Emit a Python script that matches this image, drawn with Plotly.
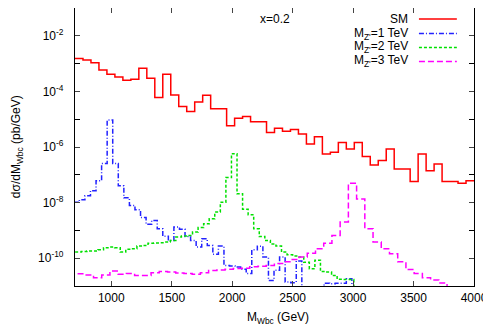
import numpy as np
import plotly.graph_objects as go

# ---------------- data (log10 of dσ/dM in pb/GeV) ----------------
sm_first_edge = 700
sm_bin_width = 66
sm_log10 = [-2.82, -2.87, -2.97, -3.23, -3.38, -3.48, -3.60, -3.56, -3.17, -3.53,
            -4.22, -3.38, -4.13, -4.54, -4.72, -4.38, -4.14, -4.62, -4.62, -5.24,
            -4.97, -4.90, -5.09, -5.09, -5.48, -5.33, -5.43, -5.37, -5.53, -5.89,
            -5.63, -6.25, -6.19, -5.84, -6.07, -5.84, -6.34, -6.65, -6.49, -6.07,
            -6.79, -6.79, -7.24, -6.25, -6.85, -6.61, -7.24, -7.24, -7.30, -7.21]

z1_first_edge = 690
z1_bin_width = 46
z1_log10 = [-7.99, -7.90, -7.75, -7.57, -7.21, -6.59, -5.03, -6.59, -7.39, -7.83,
            -8.10, -8.26, -8.54, -8.78, -8.64, -8.94, -9.21, -9.36, -8.88, -8.96,
            -9.22, -9.36, -9.60, -9.30, -9.54, -9.86, -9.56, -10.26, -10.28, -10.32,
            -10.40, -10.55, -9.70, -9.57, -9.96, -10.80, -10.43, -9.96, -10.86, -10.88,
            -10.10, -12, -12, -12, -12, -10.90, -10.92, -10.90, -10.90, -10.74, -12]

z2_first_edge = 660
z2_bin_width = 46
z2_log10 = [-9.78, -9.78, -9.76, -9.74, -9.74, -9.70, -9.62, -9.60, -9.62, -9.78,
            -9.68, -9.66, -9.56, -9.54, -9.46, -9.45, -9.44, -9.42, -9.36, -9.24,
            -9.20, -9.18, -9.06, -8.90, -8.76, -8.58, -8.34, -7.99, -7.10, -6.24,
            -7.68, -8.24, -8.44, -8.94, -9.22, -9.36, -9.49, -9.56, -9.78, -9.88,
            -9.92, -9.96, -10.15, -10.38, -10.07, -10.48, -10.50, -10.62, -10.76, -10.77,
            -10.77, -12]

z3_first_edge = 649
z3_bin_width = 68
z3_log10 = [-10.55, -10.56, -10.60, -10.70, -10.60, -10.46, -10.58, -10.55, -10.62, -10.62,
            -10.52, -10.48, -10.50, -10.53, -10.55, -10.58, -10.52, -10.44, -10.42, -10.40,
            -10.37, -10.36, -10.31, -10.29, -10.26, -10.19, -10.13, -10.05, -9.96, -9.82,
            -9.66, -9.46, -9.18, -8.70, -7.30, -7.87, -8.94, -9.42, -9.66, -9.84,
            -10.13, -10.41, -10.55, -10.70, -10.78, -10.89, -12]

series_names = ["SM", "M<sub>Z'</sub>=1 TeV", "M<sub>Z'</sub>=2 TeV", "M<sub>Z'</sub>=3 TeV"]
series_colors = ["#ff0000", "#2222ff", "#00e000", "#ff00ff"]
series_dashes = ["solid", "5px,2px,1px,2px", "3px,2px", "6px,3px"]

x_tick_vals = [1000, 1500, 2000, 2500, 3000, 3500, 4000]
y_major_exps = [-10, -8, -6, -4, -2]
y_minor_exps = [-11, -9, -7, -5, -3, -1]
y_tick_labels = ["10<sup>%d</sup>" % e for e in y_major_exps]

# ---------------- figure ----------------
# (the page body has an 8px default margin; the figure is sized/offset to compensate)
FONT = "Liberation Sans, Arial, sans-serif"
fig = go.Figure()

datasets = [(sm_first_edge, sm_bin_width, sm_log10),
            (z1_first_edge, z1_bin_width, z1_log10),
            (z2_first_edge, z2_bin_width, z2_log10),
            (z3_first_edge, z3_bin_width, z3_log10)]

for (start, w, vals), name, col, dash in zip(datasets, series_names, series_colors, series_dashes):
    edges = start + w * np.arange(len(vals) + 1)
    yv = 10.0 ** np.array(vals + [vals[-1]])
    fig.add_trace(go.Scatter(x=edges, y=yv, mode="lines", name=name,
                             line=dict(shape="hv", color=col, width=1.5, dash=dash),
                             showlegend=False, hoverinfo="skip"))

fig.update_layout(
    width=483, height=319,
    margin=dict(l=67, r=17, t=0, b=41),
    paper_bgcolor="white", plot_bgcolor="white",
    font=dict(family=FONT, size=12, color="black"),
    xaxis=dict(range=[700, 4000], tickvals=x_tick_vals, ticks="inside", ticklen=5,
               showline=True, linecolor="black", linewidth=1.2, mirror="ticks",
               showgrid=False, zeroline=False, tickfont=dict(size=12)),
    yaxis=dict(type="log", range=[-11, -1], tickvals=[10.0 ** e for e in y_major_exps],
               ticktext=y_tick_labels, ticks="inside", ticklen=5,
               showline=True, linecolor="black", linewidth=1.2, mirror="ticks",
               showgrid=False, zeroline=False, tickfont=dict(size=12),
               ticklabelstandoff=8,
               minor=dict(tickvals=[10.0 ** e for e in y_minor_exps], ticks="inside",
                          ticklen=5, tickcolor="black", showgrid=False)),
)

# axis titles
fig.add_annotation(text="dσ/dM<sub>Wbc</sub> (pb/GeV)", textangle=-90,
                   xref="paper", yref="paper", x=-0.145, y=0.50,
                   xanchor="center", yanchor="middle", showarrow=False,
                   font=dict(size=12))
fig.add_annotation(text="M<sub>Wbc</sub> (GeV)",
                   xref="paper", yref="paper", x=0.509, y=-0.115,
                   xanchor="center", yanchor="middle", showarrow=False,
                   font=dict(size=12))
fig.add_annotation(text="x=0.2", xref="paper", yref="paper", x=0.501, y=0.962,
                   xanchor="center", yanchor="middle", showarrow=False,
                   font=dict(size=12))

# legend (text on the left, line sample on the right, as in the original)
legend_rows = [0.960, 0.908, 0.858, 0.808]
for name, col, dash, yy in zip(series_names, series_colors, series_dashes, legend_rows):
    fig.add_annotation(text=name, xref="paper", yref="paper", x=0.84, y=yy,
                       xanchor="right", yanchor="middle", showarrow=False,
                       font=dict(size=12))
    fig.add_shape(type="line", xref="paper", yref="paper", x0=0.862, x1=0.957,
                  y0=yy, y1=yy, line=dict(color=col, width=1.5, dash=dash))

fig.write_html("out.html")
